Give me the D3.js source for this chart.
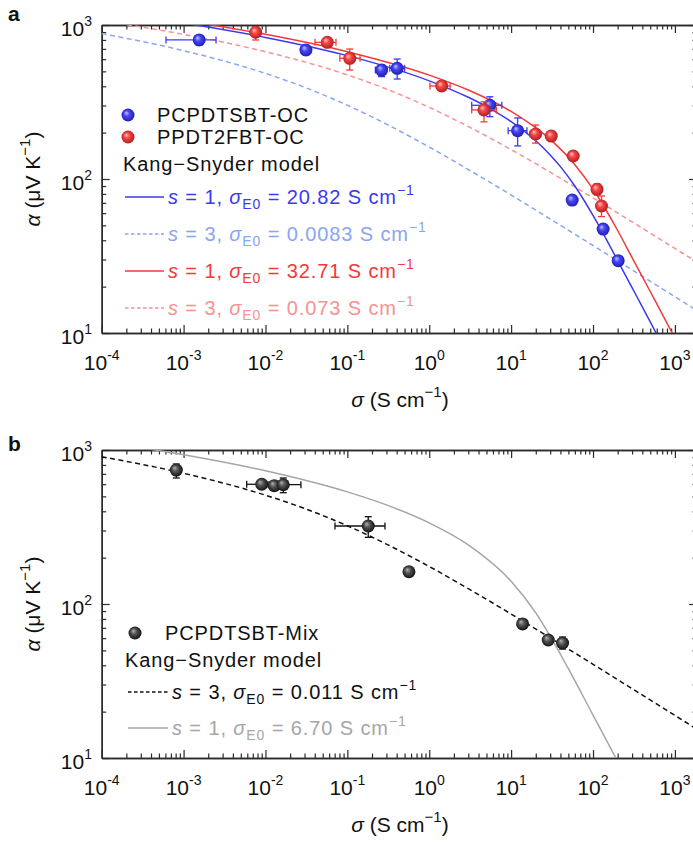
<!DOCTYPE html>
<html><head><meta charset="utf-8">
<script src="https://cdn.jsdelivr.net/npm/d3@7"></script>
<style>
body{margin:0;background:#fff}
text{font-family:"Liberation Sans",Arial,Helvetica,sans-serif}
</style>
</head><body>
<svg id="c" width="693" height="843"></svg>
<script>
// ---------- tick data ----------
const xMajor = [1e-4, 1e-3, 1e-2, 1e-1, 1, 10, 100, 1000];
const xMajorExp = ["-4", "-3", "-2", "-1", "0", "1", "2", "3"];
const yMajor = [10, 100, 1000];
const yMajorExp = ["1", "2", "3"];

// ---------- panel a: measured points ----------
const blueX   = [1.55e-3, 0.0312, 0.262, 0.406, 5.5, 12.0, 55.7, 133, 203];
const blueY   = [800, 688, 510, 523, 301, 206, 73, 47.3, 29.5];
const blueXlo = [6.1e-4, 0.027, 0.22, 0.33, 3.3, 9.2, 52, null, null];
const blueXhi = [2.49e-3, 0.036, 0.30, 0.50, 7.7, 15.6, 60, null, null];
const blueYlo = [741, 640, 462, 446, 254, 164, 68, null, 27.5];
const blueYhi = [848, 723, 550, 601, 342, 249, 78, null, 31.5];

const redX   = [7.6e-3, 0.0569, 0.107, 1.42, 4.66, 19.9, 30.9, 57.3, 112, 127];
const redY   = [897, 772, 608, 402, 281, 196, 190, 141, 85.7, 66.8];
const redXlo = [null, 0.0403, 0.081, 1.02, 3.3, 17, 27, null, null, null];
const redXhi = [null, 0.0726, 0.143, 1.8, 6.6, 23, 35, null, null, null];
const redYlo = [799, 735, 510, 385, 235, 171, 178, null, 79, 57];
const redYhi = [970, 810, 698, 420, 317, 224, 203, null, 93, 77.6];

// ---------- panel a: model curves ----------
const blueS1X = [1e-4, 1e-3, 1e-2, 0.1, 1, 3, 5, 10, 20, 30, 40, 60, 100, 150, 200, 300, 400, 700];
const blueS1Y = [1227.6, 1029.2, 830.8, 632.4, 434.0, 339.3, 295.3, 235.8, 177.1, 143.3, 120.3, 90.0, 58.0, 39.4, 29.5, 19.7, 14.8, 8.4];
const blueS3X = [1e-4, 1e-3, 1e-2, 0.03, 0.1, 0.3, 1, 3, 10, 30, 100, 300, 1000, 2000];
const blueS3Y = [879.9, 681.4, 485.1, 394.2, 301.3, 227.2, 161.1, 115.2, 78.7, 55.0, 37.0, 25.7, 17.2, 13.65];
const redS1X = [1e-4, 1e-3, 1e-2, 0.1, 1, 3, 10, 30, 60, 100, 150, 200, 300, 400, 600, 1100];
const redS1Y = [1266.5, 1068.1, 869.7, 671.3, 472.8, 378.2, 274.6, 180.7, 123.9, 85.9, 60.6, 46.3, 30.9, 23.2, 15.5, 8.4];
const redS3X = [1e-4, 1e-3, 1e-2, 0.1, 0.3, 1, 3, 10, 30, 100, 300, 1000, 2000];
const redS3Y = [1067, 868.8, 670.6, 474.3, 383.8, 291.9, 219.2, 155.2, 110.7, 75.4, 52.7, 35.4, 28.2];

// ---------- panel b ----------
const mixX   = [8.15e-4, 9.0e-3, 0.0128, 0.0165, 0.18, 0.565, 13.8, 28.4, 42.5];
const mixY   = [741, 599, 587, 595, 321, 162, 74.2, 58.4, 55.8];
const mixXlo = [null, 5.9e-3, null, 0.011, 0.0706, null, null, null, 37];
const mixXhi = [null, 0.0104, null, 0.0271, 0.288, null, null, null, 48];
const mixYlo = [658, 560, null, 528, 271, null, null, null, 51];
const mixYhi = [811, 640, null, 658, 369, null, null, null, 61];

const mixS3X = [1e-4, 1e-3, 1e-2, 0.03, 0.1, 0.3, 1, 3, 10, 30, 100, 300, 1000, 2000];
const mixS3Y = [904.1, 705.8, 508.9, 417.2, 322.1, 244.9, 175.2, 125.8, 86.1, 60.3, 40.6, 28.2, 18.9, 15.0];
const mixS1X = [1e-4, 1e-3, 1e-2, 0.1, 0.3, 1, 3, 10, 20, 30, 50, 100, 150, 190, 220];
const mixS1Y = [1129.9, 931.5, 733.1, 534.6, 440.0, 336.3, 241.8, 140.4, 87.6, 61.9, 38.0, 19.0, 12.66, 10.0, 8.63];

// ---------- colours ----------
const C = {
  blue: "#3a3af2", lblue: "#89a5f4", red: "#f23a3a", lred: "#f69292",
  black: "#111111", gray: "#a6a6a6", axis: "#2a2a2a"
};

const svg = d3.select("#c");
const defs = svg.append("defs");
function grad(id, c0, c1, c2) {
  const g = defs.append("radialGradient").attr("id", id)
    .attr("cx", "50%").attr("cy", "50%").attr("r", "55%").attr("fx", "35%").attr("fy", "32%");
  g.append("stop").attr("offset", "0%").attr("stop-color", c0);
  g.append("stop").attr("offset", "40%").attr("stop-color", c1);
  g.append("stop").attr("offset", "100%").attr("stop-color", c2);
}
grad("gBlue", "#c4c4ff", "#4646f5", "#1a1aa8");
grad("gRed", "#ffc4c4", "#f54646", "#a81a1a");
grad("gBlack", "#b4b4b4", "#555555", "#0a0a0a");

const xLeft = 101.7, xRight = 697;
const x = d3.scaleLog().domain([1e-4, Math.pow(10, 3.27)]).range([xLeft, xRight]);

function panel(top, bottom, clipId) {
  const y = d3.scaleLog().domain([10, 1000]).range([bottom, top]);
  const g = svg.append("g");
  defs.append("clipPath").attr("id", clipId).append("rect")
    .attr("x", xLeft).attr("y", top).attr("width", xRight - xLeft).attr("height", bottom - top);

  const minorX = x.ticks().filter(v => !xMajor.some(m => Math.abs(m - v) / m < 1e-6));
  const minorY = y.ticks().filter(v => !yMajor.some(m => Math.abs(m - v) / m < 1e-6));

  function style(sel) {
    sel.select(".domain").attr("stroke", C.axis).attr("stroke-width", 1.4);
    sel.selectAll(".tick line").attr("stroke", C.axis).attr("stroke-width", 1.2);
    sel.selectAll(".tick text").remove();
  }
  // bottom
  g.append("g").attr("transform", `translate(0,${bottom})`)
    .call(d3.axisBottom(x).tickValues(minorX).tickSize(-4.5).tickSizeOuter(0).tickFormat("")).call(style);
  g.append("g").attr("transform", `translate(0,${bottom})`)
    .call(d3.axisBottom(x).tickValues(xMajor).tickSize(-8).tickSizeOuter(0).tickFormat("")).call(style);
  // top
  g.append("g").attr("transform", `translate(0,${top})`)
    .call(d3.axisTop(x).tickValues(minorX).tickSize(-4.5).tickSizeOuter(0).tickFormat("")).call(style);
  g.append("g").attr("transform", `translate(0,${top})`)
    .call(d3.axisTop(x).tickValues(xMajor).tickSize(-8).tickSizeOuter(0).tickFormat("")).call(style);
  // left
  g.append("g").attr("transform", `translate(${xLeft},0)`)
    .call(d3.axisLeft(y).tickValues(minorY).tickSize(-4.5).tickSizeOuter(0).tickFormat("")).call(style);
  g.append("g").attr("transform", `translate(${xLeft},0)`)
    .call(d3.axisLeft(y).tickValues(yMajor).tickSize(-8).tickSizeOuter(0).tickFormat("")).call(style);
  // right
  g.append("g").attr("transform", `translate(${xRight},0)`)
    .call(d3.axisRight(y).tickValues(minorY).tickSize(-4.5).tickSizeOuter(0).tickFormat("")).call(style);
  g.append("g").attr("transform", `translate(${xRight},0)`)
    .call(d3.axisRight(y).tickValues(yMajor).tickSize(-8).tickSizeOuter(0).tickFormat("")).call(style);

  // tick labels
  xMajor.forEach((v, i) => {
    const t = g.append("text").attr("x", x(v)).attr("y", bottom + 37)
      .attr("text-anchor", "middle").attr("font-size", 21).attr("fill", "#111");
    t.append("tspan").text("10");
    t.append("tspan").attr("dy", -10).attr("font-size", 14).text(xMajorExp[i]);
  });
  yMajor.forEach((v, i) => {
    const t = g.append("text").attr("x", 92).attr("y", y(v) + 11)
      .attr("text-anchor", "end").attr("font-size", 21).attr("fill", "#111");
    t.append("tspan").text("10");
    t.append("tspan").attr("dy", -10).attr("font-size", 14).text(yMajorExp[i]);
  });
  // axis titles
  const xt = g.append("text").attr("x", 400).attr("y", bottom + 74)
    .attr("text-anchor", "middle").attr("font-size", 21).attr("fill", "#111");
  xt.append("tspan").attr("font-style", "italic").text("σ");
  xt.append("tspan").text(" (S cm");
  xt.append("tspan").attr("dy", -10).attr("font-size", 15).text("−1");
  xt.append("tspan").attr("dy", 10).text(")");
  const cy = (top + bottom) / 2;
  const yt = g.append("text").attr("transform", `translate(40,${cy}) rotate(-90)`)
    .attr("text-anchor", "middle").attr("font-size", 21).attr("fill", "#111");
  yt.append("tspan").attr("font-style", "italic").text("α");
  yt.append("tspan").text(" (μV K");
  yt.append("tspan").attr("dy", -10).attr("font-size", 15).text("−1");
  yt.append("tspan").attr("dy", 10).text(")");

  const plot = g.append("g").attr("clip-path", `url(#${clipId})`);
  return { g, y, plot };
}

const line = (y) => d3.line().x(d => x(d[0])).y(d => y(d[1])).curve(d3.curveMonotoneX);

function curve(p, xs, ys, color, dashed) {
  p.plot.append("path").datum(xs.map((v, i) => [v, ys[i]]))
    .attr("d", line(p.y)).attr("fill", "none").attr("stroke", color)
    .attr("stroke-width", 1.5).attr("stroke-dasharray", dashed ? "5,3.5" : null);
}

function points(p, xs, ys, xlo, xhi, ylo, yhi, color, gradId) {
  const y = p.y, gg = p.g.append("g").attr("stroke", color).attr("stroke-width", 1.3);
  xs.forEach((v, i) => {
    const px = x(v), py = y(ys[i]);
    if (xlo[i] != null) {
      const a = x(xlo[i]), b = x(xhi[i]);
      gg.append("line").attr("x1", a).attr("x2", b).attr("y1", py).attr("y2", py);
      gg.append("line").attr("x1", a).attr("x2", a).attr("y1", py - 3.5).attr("y2", py + 3.5);
      gg.append("line").attr("x1", b).attr("x2", b).attr("y1", py - 3.5).attr("y2", py + 3.5);
    }
    if (ylo[i] != null) {
      const a = y(ylo[i]), b = y(yhi[i]);
      gg.append("line").attr("x1", px).attr("x2", px).attr("y1", a).attr("y2", b);
      gg.append("line").attr("x1", px - 3.5).attr("x2", px + 3.5).attr("y1", a).attr("y2", a);
      gg.append("line").attr("x1", px - 3.5).attr("x2", px + 3.5).attr("y1", b).attr("y2", b);
    }
  });
  p.g.append("g").selectAll("circle").data(xs).join("circle")
    .attr("cx", d => x(d)).attr("cy", (d, i) => y(ys[i])).attr("r", 6.5)
    .attr("fill", `url(#${gradId})`);
}

function legendText(g, xx, yy, color, s, val) {
  const t = g.append("text").attr("x", xx).attr("y", yy).attr("font-size", 20)
    .attr("fill", color).attr("letter-spacing", 0.9);
  t.append("tspan").attr("font-style", "italic").text("s");
  t.append("tspan").text(` = ${s}, `);
  t.append("tspan").attr("font-style", "italic").text("σ");
  t.append("tspan").attr("dy", 5).attr("font-size", 14).text("E0");
  t.append("tspan").attr("dy", -5).text(` = ${val} S cm`);
  t.append("tspan").attr("dy", -9).attr("font-size", 14).text("−1");
}
function legendLine(g, x1, x2, yy, color, dashed) {
  g.append("line").attr("x1", x1).attr("x2", x2).attr("y1", yy).attr("y2", yy)
    .attr("stroke", color).attr("stroke-width", 1.3)
    .attr("stroke-dasharray", dashed ? "3.5,2.5" : null);
}
function plainText(g, xx, yy, str, color) {
  g.append("text").attr("x", xx).attr("y", yy).attr("font-size", 20)
    .attr("fill", color).attr("letter-spacing", 0.9).text(str);
}

// ===== Panel a =====
const pa = panel(25, 333, "clipA");
curve(pa, blueS3X, blueS3Y, C.lblue, true);
curve(pa, redS3X, redS3Y, C.lred, true);
curve(pa, blueS1X, blueS1Y, C.blue, false);
curve(pa, redS1X, redS1Y, C.red, false);
points(pa, blueX, blueY, blueXlo, blueXhi, blueYlo, blueYhi, C.blue, "gBlue");
points(pa, redX, redY, redXlo, redXhi, redYlo, redYhi, C.red, "gRed");

const la = pa.g.append("g");
la.append("circle").attr("cx", 128).attr("cy", 115).attr("r", 6.5).attr("fill", "url(#gBlue)");
plainText(la, 157, 122, "PCPDTSBT-OC", "#111");
la.append("circle").attr("cx", 128).attr("cy", 137).attr("r", 6.5).attr("fill", "url(#gRed)");
plainText(la, 157, 144, "PPDT2FBT-OC", "#111");
plainText(la, 123, 171, "Kang−Snyder model", "#111");
legendLine(la, 125, 164, 197, C.blue, false);
legendText(la, 168, 204, C.blue, 1, "20.82");
legendLine(la, 125, 164, 234, C.lblue, true);
legendText(la, 168, 241, C.lblue, 3, "0.0083");
legendLine(la, 125, 164, 271, C.red, false);
legendText(la, 168, 278, C.red, 1, "32.71");
legendLine(la, 125, 164, 308, C.lred, true);
legendText(la, 168, 315, C.lred, 3, "0.073");

svg.append("text").attr("x", 8).attr("y", 21).attr("font-size", 21)
  .attr("font-weight", "bold").attr("fill", "#111").text("a");

// ===== Panel b =====
const pb = panel(450, 758, "clipB");
curve(pb, mixS1X, mixS1Y, C.gray, false);
curve(pb, mixS3X, mixS3Y, C.black, true);
points(pb, mixX, mixY, mixXlo, mixXhi, mixYlo, mixYhi, C.black, "gBlack");

const lb = pb.g.append("g");
lb.append("circle").attr("cx", 135).attr("cy", 633).attr("r", 6.5).attr("fill", "url(#gBlack)");
plainText(lb, 165, 640, "PCPDTSBT-Mix", "#111");
plainText(lb, 125, 667, "Kang−Snyder model", "#111");
legendLine(lb, 128, 168, 692, C.black, true);
legendText(lb, 172, 699, C.black, 3, "0.011");
legendLine(lb, 128, 168, 728, C.gray, false);
legendText(lb, 172, 735, C.gray, 1, "6.70");

svg.append("text").attr("x", 8).attr("y", 451).attr("font-size", 21)
  .attr("font-weight", "bold").attr("fill", "#111").text("b");
</script>
</body></html>
